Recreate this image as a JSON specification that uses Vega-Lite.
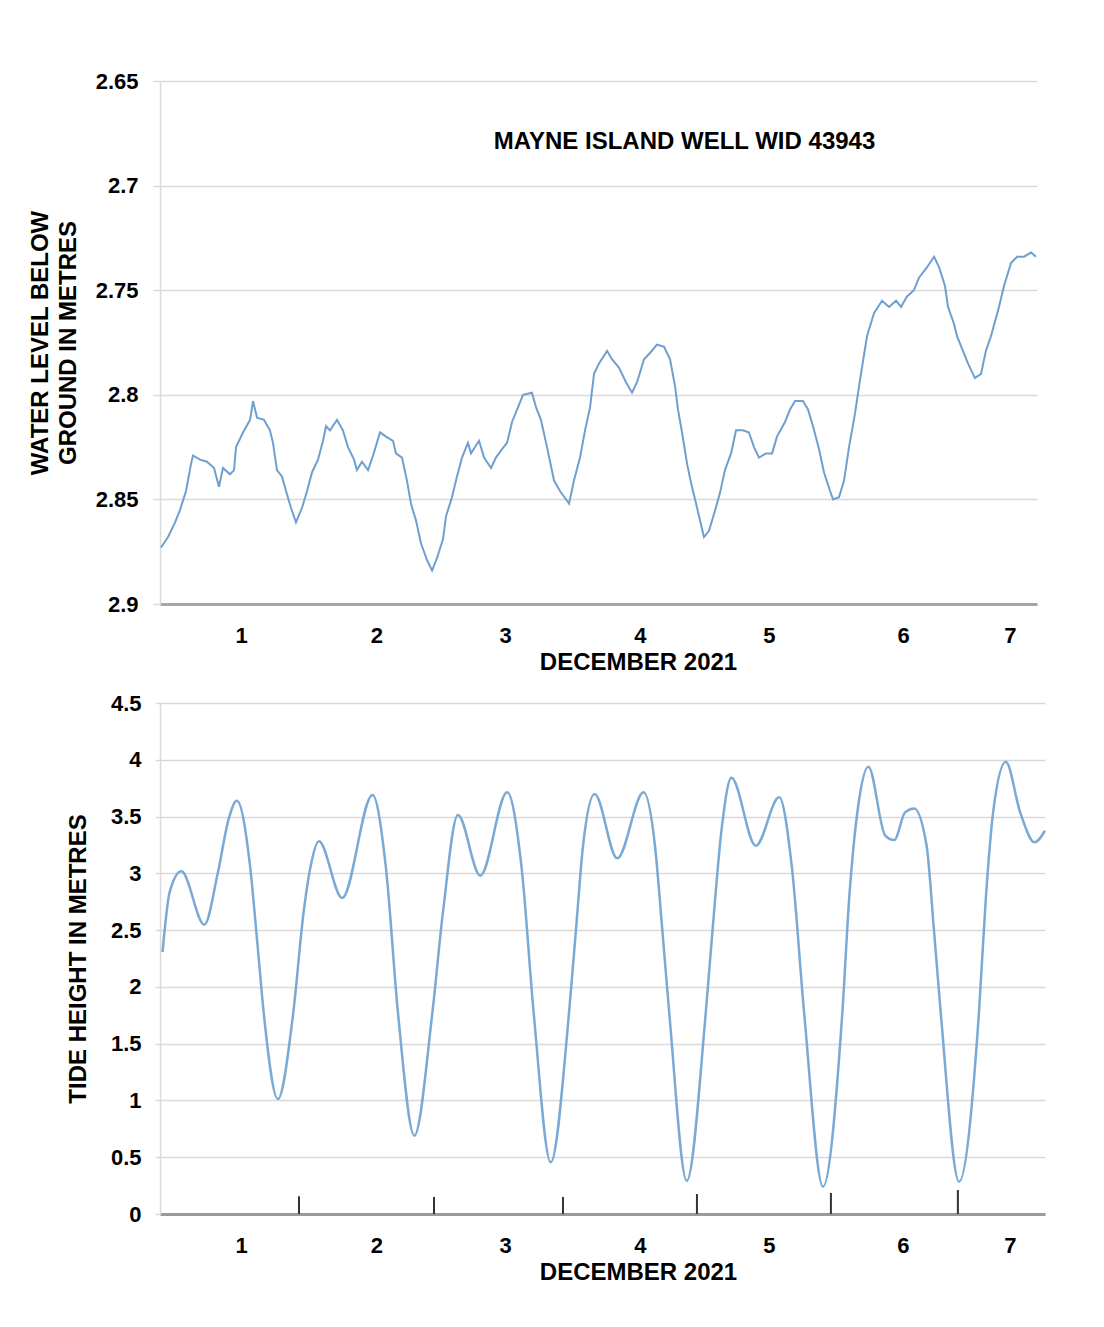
{
  "$schema": "https://vega.github.io/schema/vega-lite/v6.json",
  "padding": {"left": 28, "top": 70, "right": 5, "bottom": 5},
  "background": "white",
  "config": {
    "font": "Liberation Sans",
    "view": {"stroke": null},
    "axis": {"labelFont": "Liberation Sans", "labelFontWeight": "bold", "labelColor": "#000", "titleFont": "Liberation Sans", "titleFontWeight": "bold", "titleColor": "#000", "titleFontSize": 24, "labelFontSize": 22},
    "concat": {"spacing": 18}
  },
  "datasets": {
    "well": [
      {"day":0.394,"level":2.873},{"day":0.447,"level":2.868},{"day":0.50,"level":2.861},{"day":0.538,"level":2.855},{"day":0.583,"level":2.846},{"day":0.621,"level":2.833},{"day":0.636,"level":2.829},{"day":0.689,"level":2.831},{"day":0.742,"level":2.832},{"day":0.795,"level":2.835},{"day":0.833,"level":2.844},{"day":0.863,"level":2.835},{"day":0.916,"level":2.838},{"day":0.947,"level":2.836},{"day":0.962,"level":2.825},{"day":1.015,"level":2.818},{"day":1.068,"level":2.812},{"day":1.091,"level":2.803},{"day":1.121,"level":2.811},{"day":1.174,"level":2.812},{"day":1.219,"level":2.817},{"day":1.242,"level":2.823},{"day":1.272,"level":2.836},{"day":1.310,"level":2.839},{"day":1.341,"level":2.846},{"day":1.378,"level":2.854},{"day":1.416,"level":2.861},{"day":1.462,"level":2.854},{"day":1.50,"level":2.846},{"day":1.538,"level":2.837},{"day":1.583,"level":2.831},{"day":1.621,"level":2.822},{"day":1.644,"level":2.815},{"day":1.674,"level":2.817},{"day":1.727,"level":2.812},{"day":1.772,"level":2.817},{"day":1.810,"level":2.825},{"day":1.856,"level":2.831},{"day":1.878,"level":2.836},{"day":1.916,"level":2.832},{"day":1.962,"level":2.836},{"day":2.0,"level":2.829},{"day":2.053,"level":2.818},{"day":2.098,"level":2.820},{"day":2.151,"level":2.822},{"day":2.174,"level":2.828},{"day":2.219,"level":2.830},{"day":2.257,"level":2.841},{"day":2.287,"level":2.852},{"day":2.325,"level":2.860},{"day":2.363,"level":2.871},{"day":2.409,"level":2.879},{"day":2.447,"level":2.884},{"day":2.485,"level":2.878},{"day":2.53,"level":2.869},{"day":2.553,"level":2.858},{"day":2.598,"level":2.849},{"day":2.636,"level":2.839},{"day":2.674,"level":2.830},{"day":2.719,"level":2.823},{"day":2.742,"level":2.828},{"day":2.803,"level":2.822},{"day":2.841,"level":2.830},{"day":2.894,"level":2.835},{"day":2.931,"level":2.830},{"day":2.977,"level":2.826},{"day":3.015,"level":2.823},{"day":3.053,"level":2.813},{"day":3.098,"level":2.806},{"day":3.136,"level":2.800},{"day":3.204,"level":2.799},{"day":3.235,"level":2.806},{"day":3.272,"level":2.812},{"day":3.318,"level":2.825},{"day":3.371,"level":2.841},{"day":3.416,"level":2.846},{"day":3.485,"level":2.852},{"day":3.522,"level":2.841},{"day":3.568,"level":2.830},{"day":3.606,"level":2.817},{"day":3.644,"level":2.806},{"day":3.674,"level":2.790},{"day":3.712,"level":2.785},{"day":3.773,"level":2.779},{"day":3.810,"level":2.783},{"day":3.863,"level":2.787},{"day":3.916,"level":2.794},{"day":3.962,"level":2.799},{"day":4.0,"level":2.794},{"day":4.053,"level":2.783},{"day":4.098,"level":2.780},{"day":4.151,"level":2.776},{"day":4.204,"level":2.777},{"day":4.25,"level":2.783},{"day":4.288,"level":2.796},{"day":4.31,"level":2.807},{"day":4.341,"level":2.818},{"day":4.379,"level":2.833},{"day":4.409,"level":2.842},{"day":4.447,"level":2.852},{"day":4.477,"level":2.860},{"day":4.507,"level":2.868},{"day":4.545,"level":2.865},{"day":4.583,"level":2.857},{"day":4.628,"level":2.847},{"day":4.666,"level":2.836},{"day":4.712,"level":2.828},{"day":4.75,"level":2.817},{"day":4.803,"level":2.817},{"day":4.848,"level":2.818},{"day":4.886,"level":2.825},{"day":4.924,"level":2.830},{"day":4.977,"level":2.828},{"day":5.023,"level":2.828},{"day":5.06,"level":2.820},{"day":5.121,"level":2.813},{"day":5.159,"level":2.807},{"day":5.197,"level":2.803},{"day":5.257,"level":2.803},{"day":5.295,"level":2.807},{"day":5.333,"level":2.815},{"day":5.379,"level":2.826},{"day":5.416,"level":2.837},{"day":5.462,"level":2.846},{"day":5.485,"level":2.850},{"day":5.53,"level":2.849},{"day":5.568,"level":2.841},{"day":5.606,"level":2.825},{"day":5.651,"level":2.809},{"day":5.689,"level":2.793},{"day":5.742,"level":2.772},{"day":5.795,"level":2.761},{"day":5.856,"level":2.755},{"day":5.909,"level":2.758},{"day":5.962,"level":2.755},{"day":6.0,"level":2.758},{"day":6.045,"level":2.753},{"day":6.098,"level":2.750},{"day":6.136,"level":2.744},{"day":6.197,"level":2.739},{"day":6.25,"level":2.734},{"day":6.288,"level":2.739},{"day":6.333,"level":2.748},{"day":6.356,"level":2.758},{"day":6.401,"level":2.766},{"day":6.424,"level":2.772},{"day":6.469,"level":2.779},{"day":6.507,"level":2.785},{"day":6.56,"level":2.792},{"day":6.606,"level":2.790},{"day":6.643,"level":2.779},{"day":6.681,"level":2.772},{"day":6.742,"level":2.758},{"day":6.78,"level":2.748},{"day":6.833,"level":2.737},{"day":6.879,"level":2.734},{"day":6.932,"level":2.734},{"day":6.985,"level":2.732},{"day":7.022,"level":2.734}
    ],
    "tide": [
      {"day":0.405,"height":2.307},{"day":0.459,"height":2.833},{"day":0.548,"height":3.018},{"day":0.722,"height":2.548},{"day":0.825,"height":3.009},{"day":0.906,"height":3.478},{"day":0.968,"height":3.640},{"day":1.068,"height":3.067},{"day":1.121,"height":2.42},{"day":1.174,"height":1.746},{"day":1.279,"height":1.013},{"day":1.393,"height":1.746},{"day":1.474,"height":2.657},{"day":1.528,"height":3.067},{"day":1.590,"height":3.282},{"day":1.766,"height":2.783},{"day":1.996,"height":3.690},{"day":2.096,"height":3.067},{"day":2.191,"height":1.746},{"day":2.313,"height":0.690},{"day":2.447,"height":1.746},{"day":2.530,"height":2.66},{"day":2.643,"height":3.514},{"day":2.813,"height":2.979},{"day":3.016,"height":3.713},{"day":3.124,"height":3.067},{"day":3.219,"height":1.746},{"day":3.346,"height":0.455},{"day":3.483,"height":1.746},{"day":3.538,"height":2.51},{"day":3.591,"height":3.243},{"day":3.679,"height":3.699},{"day":3.850,"height":3.132},{"day":4.050,"height":3.713},{"day":4.136,"height":3.243},{"day":4.191,"height":2.51},{"day":4.246,"height":1.746},{"day":4.377,"height":0.293},{"day":4.519,"height":1.746},{"day":4.573,"height":2.51},{"day":4.641,"height":3.39},{"day":4.715,"height":3.842},{"day":4.900,"height":3.243},{"day":5.077,"height":3.669},{"day":5.172,"height":3.067},{"day":5.268,"height":1.746},{"day":5.409,"height":0.241},{"day":5.554,"height":1.746},{"day":5.609,"height":2.803},{"day":5.676,"height":3.595},{"day":5.753,"height":3.939},{"day":5.881,"height":3.331},{"day":5.949,"height":3.293},{"day":6.031,"height":3.537},{"day":6.099,"height":3.572},{"day":6.194,"height":3.243},{"day":6.249,"height":2.51},{"day":6.303,"height":1.746},{"day":6.440,"height":0.285},{"day":6.589,"height":1.746},{"day":6.644,"height":2.803},{"day":6.698,"height":3.537},{"day":6.794,"height":3.983},{"day":6.903,"height":3.537},{"day":7.012,"height":3.273},{"day":7.09,"height":3.375}
    ],
    "marks": [
      {"day":1.439,"base":0,"h":0.156},{"day":2.462,"base":0,"h":0.15},{"day":3.439,"base":0,"h":0.15},{"day":4.454,"base":0,"h":0.176},{"day":5.469,"base":0,"h":0.185},{"day":6.431,"base":0,"h":0.211}
    ]
  },
  "vconcat": [
    {
      "width": 877,
      "height": 523,
      "layer": [
        {
          "data": {"name": "well"},
          "mark": {"type": "line", "color": "#6f9fcf", "strokeWidth": 2},
          "encoding": {
            "x": {"field": "day", "type": "quantitative",
              "scale": {"domain": [0.386, 7.03], "nice": false, "zero": false},
              "axis": {"values": [1, 2.026, 3.0, 4.022, 4.999, 6.015, 6.825], "labelExpr": "format(round(datum.value), 'd')", "grid": false, "ticks": false, "tickSize": 0, "domainColor": "#a6a6a6", "domainWidth": 3, "labelPadding": 21, "labelFontSize": 22, "title": "DECEMBER 2021", "titlePadding": 4, "titleX": 478}},
            "y": {"field": "level", "type": "quantitative",
              "scale": {"domain": [2.65, 2.9], "reverse": true, "nice": false, "zero": false},
              "axis": {"values": [2.65, 2.7, 2.75, 2.8, 2.85, 2.9], "format": "~g", "gridColor": "#d9d9d9", "gridWidth": 1.5, "tickColor": "#d9d9d9", "tickSize": 7, "tickWidth": 1.5, "domainColor": "#d9d9d9", "domainWidth": 1.5, "labelPadding": 15, "title": ["WATER LEVEL BELOW", "GROUND IN METRES"], "titleLineHeight": 28, "titlePadding": 15}}
          }
        },
        {
          "data": {"values": [{"label": "MAYNE ISLAND WELL WID 43943", "day": 4.36, "level": 2.679}]},
          "mark": {"type": "text", "fontSize": 24, "fontWeight": "bold", "color": "#000", "font": "Liberation Sans"},
          "encoding": {
            "x": {"field": "day", "type": "quantitative"},
            "y": {"field": "level", "type": "quantitative"},
            "text": {"field": "label", "type": "nominal"}
          }
        }
      ]
    },
    {
      "width": 885,
      "height": 511,
      "layer": [
        {
          "data": {"name": "tide"},
          "mark": {"type": "line", "color": "#7aa9d6", "strokeWidth": 2.5, "interpolate": "monotone"},
          "encoding": {
            "x": {"field": "day", "type": "quantitative",
              "scale": {"domain": [0.386, 7.091], "nice": false, "zero": false},
              "axis": {"values": [1, 2.026, 3.0, 4.022, 4.999, 6.015, 6.825], "labelExpr": "format(round(datum.value), 'd')", "grid": false, "ticks": false, "tickSize": 0, "domainColor": "#9a9a9a", "domainWidth": 3, "labelPadding": 21, "labelFontSize": 22, "title": "DECEMBER 2021", "titlePadding": 4, "titleX": 478}},
            "y": {"field": "height", "type": "quantitative",
              "scale": {"domain": [0, 4.5], "nice": false, "zero": true},
              "axis": {"values": [0, 0.5, 1, 1.5, 2, 2.5, 3, 3.5, 4, 4.5], "format": "~g", "gridColor": "#d9d9d9", "gridWidth": 1.5, "tickColor": "#d9d9d9", "tickSize": 5, "tickWidth": 1.5, "domainColor": "#d9d9d9", "domainWidth": 1.5, "labelPadding": 14, "title": "TIDE HEIGHT IN METRES", "titlePadding": 20}}
          }
        },
        {
          "data": {"name": "marks"},
          "mark": {"type": "rule", "color": "#333", "strokeWidth": 2},
          "encoding": {
            "x": {"field": "day", "type": "quantitative"},
            "y": {"field": "h", "type": "quantitative"},
            "y2": {"field": "base"}
          }
        }
      ]
    }
  ]
}
